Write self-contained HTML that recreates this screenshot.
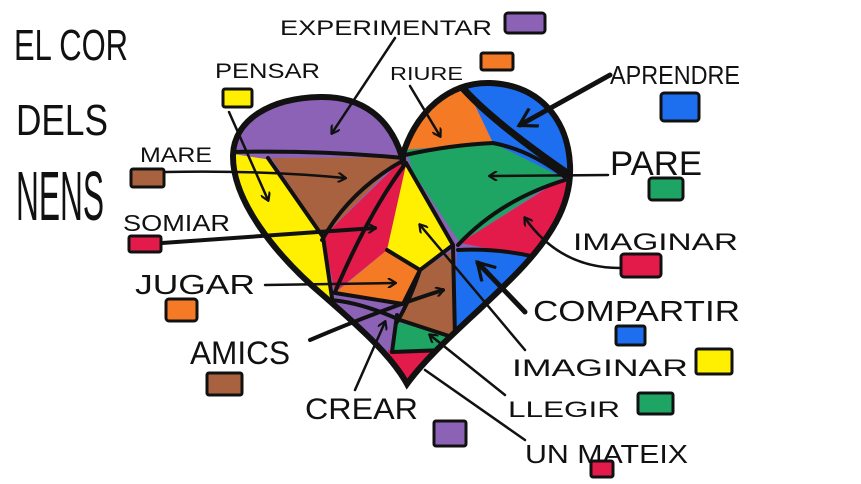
<!DOCTYPE html>
<html><head><meta charset="utf-8"><style>
html,body{margin:0;padding:0;background:#fff;width:861px;height:484px;overflow:hidden}
svg{display:block}
text{font-family:"Liberation Sans",sans-serif;fill:#111}
</style></head><body>
<svg width="861" height="484" viewBox="0 0 861 484" xmlns="http://www.w3.org/2000/svg">
<defs>
<clipPath id="h"><path id="hp" d="M402,157 C390,118 362,96 320,97 C270,98 234,120 233,155 C232,200 275,255 325,297 C365,332 393,358 407,384 C430,352 470,320 512,278 C550,240 572,205 570,165 C568,120 540,85 490,83 C450,82 416,110 402,157 Z"/></clipPath>
<marker id="a" markerWidth="10" markerHeight="10" refX="8" refY="5" orient="auto" markerUnits="userSpaceOnUse" viewBox="0 0 10 10"><path d="M1,0 L9,5 L1,10" fill="none" stroke="#111" stroke-width="2.2"/></marker>
<marker id="b" markerWidth="22" markerHeight="22" refX="18" refY="11" orient="auto" markerUnits="userSpaceOnUse" viewBox="0 0 22 22"><path d="M2,1 L19,11 L2,21" fill="none" stroke="#111" stroke-width="3.2"/></marker>
</defs>
<g clip-path="url(#h)">
<rect x="220" y="80" width="360" height="310" fill="#8b62b5"/>
<polygon points="220,152 272,160 323,237 332,298 220,300" fill="#ffef00"/>
<polygon points="272,158 402,157 323,237" fill="#a8623f"/>
<polygon points="323,237 400,162 406,165 387,250 335,292" fill="#e31b4b"/>
<polygon points="406,165 413,172 453,243 420,270 387,250" fill="#ffef00"/>
<polygon points="387,250 420,270 403,304 335,293" fill="#f47a26"/>
<polygon points="420,270 455,250 455,338 400,320 403,304" fill="#a8623f"/>
<polygon points="457,250 540,255 580,260 460,345 453,337" fill="#1e6ff0"/>
<polygon points="460,243 560,180 580,175 580,260 533,257" fill="#e31b4b"/>
<polygon points="406,150 493,143 562,177 460,243 413,172" fill="#1ea463"/>
<polygon points="400,150 422,80 470,80 493,143" fill="#f47a26"/>
<polygon points="463,80 600,80 600,175 562,177 493,143" fill="#1e6ff0"/>
<polygon points="330,297 387,307 393,350 330,350" fill="#8b62b5"/>
<polygon points="397,322 455,337 440,352 392,350" fill="#1ea463"/>
<polygon points="388,350 442,350 420,400 395,400" fill="#e31b4b"/>
<g fill="none" stroke="#111" stroke-width="4" stroke-linecap="round" stroke-linejoin="round">
<path d="M232,152 Q320,150 404,158"/>
<path d="M268,158 L323,237 L332,298"/>
<path d="M404,160 Q350,190 322,240"/>
<path d="M406,163 Q370,210 335,292"/>
<path d="M406,163 L453,245 L420,270 L387,250"/>
<path d="M420,270 L403,304 L335,293"/>
<path d="M453,245 L455,338"/>
<path d="M405,155 Q450,145 493,143 Q530,150 565,177"/>
<path d="M458,245 Q500,200 565,180"/>
<path d="M458,250 Q500,248 540,258"/>
<path d="M330,300 Q360,302 400,320 L455,338"/>
<path d="M397,315 L392,352 L445,350"/>
<path d="M420,270 Q410,300 397,322"/>
</g>
<path d="M460,85 Q490,120 570,175" fill="none" stroke="#111" stroke-width="7"/>
</g>
<use href="#hp" fill="none" stroke="#111" stroke-width="6"/>

<g font-size="44">
<text x="14" y="60" textLength="114" lengthAdjust="spacingAndGlyphs">EL COR</text>
<text x="16" y="135" textLength="92" lengthAdjust="spacingAndGlyphs">DELS</text>
<text x="16" y="220" textLength="88" lengthAdjust="spacingAndGlyphs" font-size="70">NENS</text>
</g>

<g font-size="21">
<text x="280" y="35" textLength="212" lengthAdjust="spacingAndGlyphs">EXPERIMENTAR</text>
<text x="215" y="78" textLength="105" lengthAdjust="spacingAndGlyphs">PENSAR</text>
<text x="390" y="80" textLength="73" lengthAdjust="spacingAndGlyphs" font-size="18">RIURE</text>
<text x="610" y="84" textLength="130" lengthAdjust="spacingAndGlyphs" font-size="26">APRENDRE</text>
<text x="140" y="162" textLength="72" lengthAdjust="spacingAndGlyphs">MARE</text>
<text x="610" y="175" textLength="92" lengthAdjust="spacingAndGlyphs" font-size="34">PARE</text>
<text x="123" y="231" textLength="107" lengthAdjust="spacingAndGlyphs" font-size="23">SOMIAR</text>
<text x="573" y="250" textLength="165" lengthAdjust="spacingAndGlyphs" font-size="24">IMAGINAR</text>
<text x="135" y="294" textLength="120" lengthAdjust="spacingAndGlyphs" font-size="28">JUGAR</text>
<text x="533" y="321" textLength="207" lengthAdjust="spacingAndGlyphs" font-size="29">COMPARTIR</text>
<text x="190" y="364" textLength="100" lengthAdjust="spacingAndGlyphs" font-size="32">AMICS</text>
<text x="512" y="376" textLength="176" lengthAdjust="spacingAndGlyphs" font-size="24">IMAGINAR</text>
<text x="305" y="419" textLength="113" lengthAdjust="spacingAndGlyphs" font-size="30">CREAR</text>
<text x="508" y="417" textLength="112" lengthAdjust="spacingAndGlyphs" font-size="22">LLEGIR</text>
<text x="525" y="463" textLength="163" lengthAdjust="spacingAndGlyphs" font-size="26">UN MATEIX</text>
</g>

<g stroke="#111" stroke-width="3">
<rect x="505" y="13" width="40" height="20" rx="3" fill="#8b62b5"/>
<rect x="223" y="89" width="29" height="18" rx="2" fill="#ffef00"/>
<rect x="481" y="53" width="32" height="17" rx="2" fill="#f47a26"/>
<rect x="661" y="93" width="38" height="28" rx="3" fill="#1e6ff0"/>
<rect x="131" y="169" width="33" height="18" rx="2" fill="#a8623f"/>
<rect x="649" y="178" width="34" height="22" rx="3" fill="#1ea463"/>
<rect x="129" y="236" width="32" height="16" rx="2" fill="#e31b4b"/>
<rect x="621" y="254" width="40" height="23" rx="3" fill="#e31b4b"/>
<rect x="166" y="299" width="31" height="22" rx="3" fill="#f47a26"/>
<rect x="616" y="326" width="29" height="19" rx="2" fill="#1e6ff0"/>
<rect x="207" y="373" width="35" height="22" rx="2" fill="#a8623f"/>
<rect x="696" y="349" width="36" height="25" rx="2" fill="#ffef00"/>
<rect x="434" y="421" width="32" height="25" rx="2" fill="#8b62b5"/>
<rect x="638" y="393" width="35" height="21" rx="2" fill="#1ea463"/>
<rect x="591" y="461" width="22" height="16" rx="2" fill="#e31b4b"/>
</g>

<g fill="none" stroke="#111" stroke-width="2.5" stroke-linecap="round">
<path d="M395,38 L332,133" marker-end="url(#a)"/>
<path d="M229,112 L268,200" marker-end="url(#a)"/>
<path d="M410,86 L440,136" marker-end="url(#a)"/>
<path d="M165,172 Q260,170 345,178" marker-end="url(#a)"/>
<path d="M608,175 L490,176" marker-end="url(#a)"/>
<path d="M620,268 Q560,268 525,218" marker-end="url(#a)"/>
<path d="M265,285 L395,283" marker-end="url(#a)"/>
<path d="M525,350 L420,225" marker-end="url(#a)"/>
<path d="M355,390 L385,322" marker-end="url(#a)"/>
<path d="M505,395 L430,335" marker-end="url(#a)"/>
<path d="M525,440 L425,370"/>
</g>
<g fill="none" stroke="#111" stroke-width="4" stroke-linecap="round">
<path d="M162,243 Q270,235 375,228" marker-end="url(#a)"/>
<path d="M310,340 Q380,310 443,290" marker-end="url(#a)"/>
</g>
<g fill="none" stroke="#111" stroke-width="5" stroke-linecap="round">
<path d="M610,75 L520,125" marker-end="url(#b)"/>
<path d="M525,312 L478,263" marker-end="url(#b)"/>
</g>
</svg>
</body></html>
